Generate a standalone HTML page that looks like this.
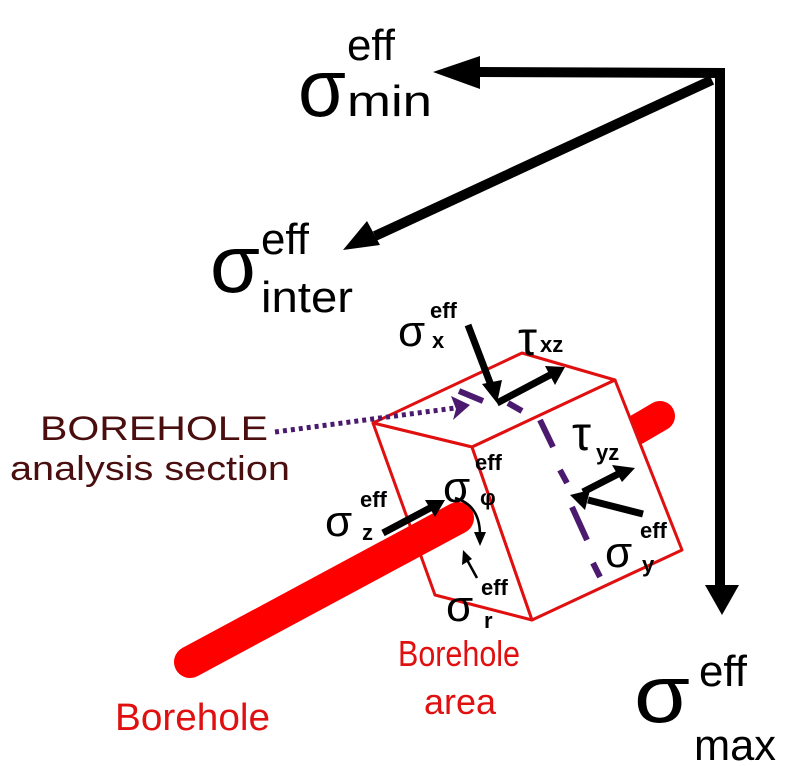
<!DOCTYPE html>
<html><head><meta charset="utf-8"><style>
html,body{margin:0;padding:0;background:#fff;}
svg{display:block;font-family:"Liberation Sans",sans-serif;}
</style></head><body>
<svg width="800" height="766" viewBox="0 0 800 766" xmlns="http://www.w3.org/2000/svg">
<g stroke="#000" stroke-width="10" fill="none">
<line x1="720" y1="72" x2="720" y2="590"/>
<line x1="725" y1="73" x2="480" y2="72"/>
<line x1="712" y1="80" x2="375" y2="236"/>
</g>
<polygon points="433,72 480,56 480,89" fill="#000"/>
<polygon points="343,250 367,221 380,245" fill="#000"/>
<polygon points="722,615 705,585 739,585" fill="#000"/>

<text x="298" y="116" font-size="82" textLength="48" lengthAdjust="spacingAndGlyphs">σ</text>
<text x="347" y="60" font-size="44" textLength="48" lengthAdjust="spacingAndGlyphs">eff</text>
<text x="347" y="116" font-size="44" textLength="85" lengthAdjust="spacingAndGlyphs">min</text>
<text x="210" y="292" font-size="82" textLength="50" lengthAdjust="spacingAndGlyphs">σ</text>
<text x="261" y="254" font-size="44" textLength="48" lengthAdjust="spacingAndGlyphs">eff</text>
<text x="261" y="312" font-size="44" textLength="92" lengthAdjust="spacingAndGlyphs">inter</text>
<text x="634" y="722" font-size="82" textLength="56" lengthAdjust="spacingAndGlyphs">σ</text>
<text x="699" y="686" font-size="44" textLength="48" lengthAdjust="spacingAndGlyphs">eff</text>
<text x="694" y="760" font-size="44" textLength="82" lengthAdjust="spacingAndGlyphs">max</text>

<line x1="636" y1="430" x2="660" y2="416" stroke="#f00" stroke-width="30" stroke-linecap="round"/>
<g stroke="#e01010" stroke-width="3" fill="#fff" stroke-linejoin="round">
<polygon points="373,423 522,353 615,380 472,447"/>
<polygon points="373,423 472,447 532,620 435,595"/>
<polygon points="472,447 615,380 682,550 532,620"/>
</g>
<line x1="190" y1="662" x2="458" y2="518" stroke="#f00" stroke-width="32" stroke-linecap="round"/>

<g stroke="#4b1a6e" stroke-width="6">
<line x1="459" y1="391" x2="483" y2="401"/>
<line x1="508" y1="403" x2="522" y2="411"/>
<line x1="540" y1="420" x2="553" y2="447"/>
<line x1="560" y1="470" x2="567" y2="483"/>
<line x1="572" y1="507" x2="587" y2="540"/>
<line x1="593" y1="563" x2="600" y2="577"/>
</g>
<line x1="275" y1="432" x2="455" y2="408" stroke="#4b1a6e" stroke-width="5" stroke-dasharray="4,4"/>
<polygon points="470,405 451,396 456,409 453,420" fill="#4b1a6e"/>

<g stroke="#000" stroke-width="7" fill="none">
<line x1="468" y1="325" x2="492" y2="388"/>
<polyline points="497,403 550,375"/>
<line x1="383" y1="533" x2="432" y2="507"/>
<line x1="643" y1="514" x2="588" y2="500"/>
<line x1="583" y1="492" x2="622" y2="472"/>
</g>
<polygon points="497,403 482,384 502,380" fill="#000"/>
<polygon points="565,367 545,366 555,385" fill="#000"/>
<polygon points="445,500 425,500 435,517" fill="#000"/>
<polygon points="570,495 590,490 585,510" fill="#000"/>
<polygon points="635,468 612,465 622,482" fill="#000"/>
<path d="M455,498 Q480,505 480,535" stroke="#000" stroke-width="2.5" fill="none"/>
<polygon points="480,546 474,532 486,532" fill="#000"/>
<line x1="477" y1="578" x2="466" y2="558" stroke="#000" stroke-width="2.5"/>
<polygon points="463,550 462,565 472,559" fill="#000"/>

<g font-size="44">
<text x="398" y="346">σ</text>
<text x="325" y="536">σ</text>
<text x="443" y="502">σ</text>
<text x="605" y="567">σ</text>
<text x="446" y="621">σ</text>
<text x="518" y="355" font-size="48">τ</text>
<text x="572" y="450" font-size="48">τ</text>
</g>
<g font-size="22" font-weight="bold">
<text x="430" y="318">eff</text><text x="432" y="348">x</text>
<text x="540" y="352">xz</text>
<text x="596" y="460">yz</text>
<text x="360" y="507">eff</text><text x="362" y="540">z</text>
<text x="475" y="470">eff</text><text x="480" y="505">φ</text>
<text x="640" y="538">eff</text><text x="642" y="572">y</text>
<text x="481" y="595">eff</text><text x="484" y="628">r</text>
</g>

<text x="115" y="730" font-size="38" fill="#e01010" textLength="155" lengthAdjust="spacingAndGlyphs">Borehole</text>
<text x="398" y="666" font-size="36" fill="#e01010" textLength="122" lengthAdjust="spacingAndGlyphs">Borehole</text>
<text x="424" y="714" font-size="36" fill="#e01010" textLength="72" lengthAdjust="spacingAndGlyphs">area</text>
<text x="40" y="440" font-size="34" fill="#4a0e0e" textLength="228" lengthAdjust="spacingAndGlyphs">BOREHOLE</text>
<text x="10" y="480" font-size="34" fill="#4a0e0e" textLength="280" lengthAdjust="spacingAndGlyphs">analysis section</text>
</svg>
</body></html>
